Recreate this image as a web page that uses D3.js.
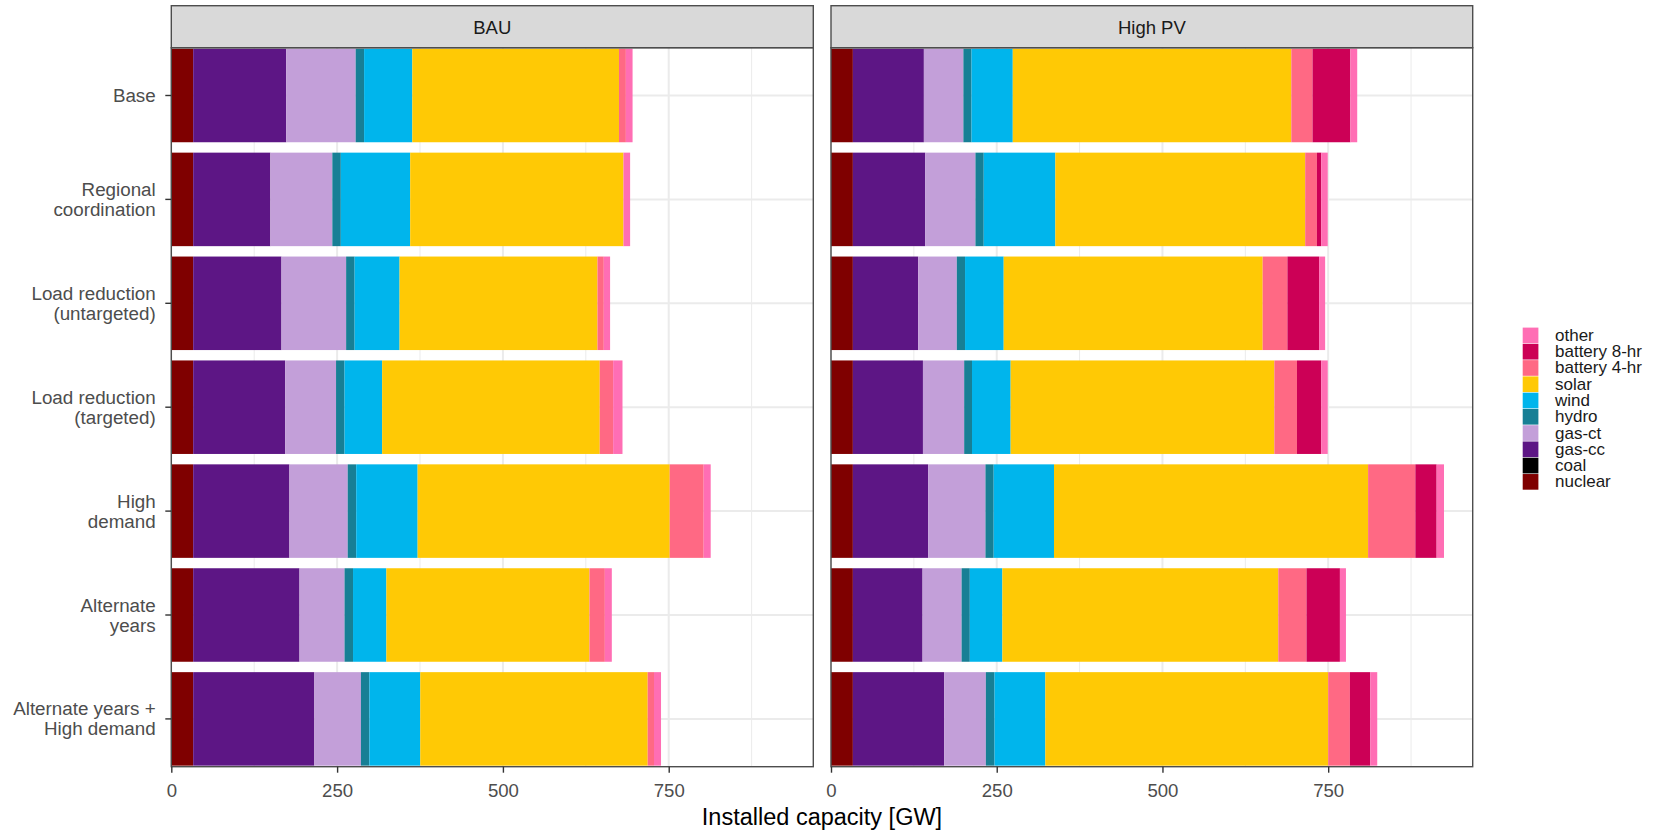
<!DOCTYPE html>
<html><head><meta charset="utf-8">
<script src="https://cdn.jsdelivr.net/npm/d3@7"></script>
<style>
html,body{margin:0;padding:0;background:#fff;}
svg{display:block;font-family:"Liberation Sans", Arial, Helvetica, sans-serif;}
</style></head><body>
<svg id="chart" width="1663" height="831"></svg>
<script>
// ---------------- data ----------------
const scenarios = ["Base","Regional\ncoordination","Load reduction\n(untargeted)","Load reduction\n(targeted)","High\ndemand","Alternate\nyears","Alternate years +\nHigh demand"];
const panels = ["BAU","High PV"];
const technologies = ["nuclear","coal","gas-cc","gas-ct","hydro","wind","solar","battery 4-hr","battery 8-hr","other"];
const techColors = ["#7f0000","#000000","#5d1685","#c39fd9","#177f95","#00b5ec","#ffc905","#ff6984","#cc0056","#ff6eb4"];
const xTicks = [0,250,500,750];
const xMinorTicks = [125,375,625,875];
const xMax = 968;

// BAU (GW)
const bauNuclear = [33,33,33,33,33,33,33];
const bauCoal    = [0,0,0,0,0,0,0];
const bauGasCC   = [140.3,116.4,133.1,138.7,145.1,160.3,182.7];
const bauGasCT   = [104.7,93.4,97.5,76.7,87.9,67.9,70.2];
const bauHydro   = [12.7,12.8,12.8,12.8,12.8,12.8,12.8];
const bauWind    = [72.7,104.6,67.8,56.7,92.6,50.3,76.7];
const bauSolar   = [311.6,321.6,298.4,328.1,380.1,306.2,342.9];
const bauBat4    = [10.4,0,9.5,20.2,51.2,23.2,9.5];
const bauBat8    = [0,0,0,0,0,0,0];
const bauOther   = [10.1,10.0,9.5,14.1,10.6,10.5,10.6];

// High PV (GW)
const hpvNuclear = [33,33,33,33,33,33,33];
const hpvCoal    = [0,0,0,0,0,0,0];
const hpvGasCC   = [107.1,109.0,98.5,105.7,113.6,105.1,137.8];
const hpvGasCT   = [59.6,75.9,58.3,62.2,86.4,58.9,62.8];
const hpvHydro   = [12.3,12.5,12.4,11.8,12.4,12.4,13.1];
const hpvWind    = [62.2,108.0,58.3,58.3,91.0,49.1,76.6];
const hpvSolar   = [420.2,376.9,390.7,397.8,473.8,416.2,426.7];
const hpvBat4    = [32.0,17.7,37.3,34.1,71.3,42.6,32.7];
const hpvBat8    = [57.0,6.5,47.8,36.6,32.1,50.4,30.8];
const hpvOther   = [10.4,9.8,9.1,9.8,11.1,9.1,10.5];

const panelSeries = [
  [bauNuclear,bauCoal,bauGasCC,bauGasCT,bauHydro,bauWind,bauSolar,bauBat4,bauBat8,bauOther],
  [hpvNuclear,hpvCoal,hpvGasCC,hpvGasCT,hpvHydro,hpvWind,hpvSolar,hpvBat4,hpvBat8,hpvOther]
];

// ---------------- layout ----------------
const svg = d3.select("#chart");
const panelX = [[171.3, 813.3],[831, 1472.7]];
const stripTop = 5.7, panelTop = 47.7, panelBottom = 766.7;
const color = d3.scaleOrdinal().domain(technologies).range(techColors);
const y = d3.scaleBand().domain(scenarios).range([panelTop, panelBottom]).paddingInner(0.1).paddingOuter(0.01);

panels.forEach((pname, p) => {
  const x = d3.scaleLinear().domain([0, xMax]).range(panelX[p]);
  const rows = scenarios.map((s, i) => {
    const o = {scenario: s};
    technologies.forEach((t, k) => o[t] = panelSeries[p][k][i]);
    return o;
  });
  const stacked = d3.stack().keys(technologies)(rows);
  const g = svg.append("g");

  // panel background
  g.append("rect").attr("x", x(0)).attr("y", panelTop)
    .attr("width", x(xMax) - x(0)).attr("height", panelBottom - panelTop).attr("fill", "#fff");

  // grid
  g.selectAll(".vminor").data(xMinorTicks).join("line")
    .attr("x1", d => x(d)).attr("x2", d => x(d)).attr("y1", panelTop).attr("y2", panelBottom)
    .attr("stroke", "#ebebeb").attr("stroke-width", 1);
  g.selectAll(".vmajor").data(xTicks).join("line")
    .attr("x1", d => x(d)).attr("x2", d => x(d)).attr("y1", panelTop).attr("y2", panelBottom)
    .attr("stroke", "#ebebeb").attr("stroke-width", 2);
  g.selectAll(".hmajor").data(scenarios).join("line")
    .attr("x1", x(0)).attr("x2", x(xMax))
    .attr("y1", d => y(d) + y.bandwidth()/2).attr("y2", d => y(d) + y.bandwidth()/2)
    .attr("stroke", "#ebebeb").attr("stroke-width", 2);

  // bars
  g.selectAll(".layer").data(stacked).join("g")
    .attr("fill", d => color(d.key))
    .selectAll("rect").data(d => d).join("rect")
    .attr("x", d => x(d[0]))
    .attr("width", d => Math.max(0, x(d[1]) - x(d[0])))
    .attr("y", d => y(d.data.scenario))
    .attr("height", y.bandwidth());

  // border
  g.append("rect").attr("x", x(0)).attr("y", panelTop)
    .attr("width", x(xMax) - x(0)).attr("height", panelBottom - panelTop)
    .attr("fill", "none").attr("stroke", "#4d4d4d").attr("stroke-width", 1.4);

  // strip
  g.append("rect").attr("x", x(0)).attr("y", stripTop)
    .attr("width", x(xMax) - x(0)).attr("height", panelTop - stripTop)
    .attr("fill", "#d9d9d9").attr("stroke", "#4d4d4d").attr("stroke-width", 1.4);
  g.append("text").attr("x", (x(0) + x(xMax)) / 2).attr("y", (stripTop + panelTop) / 2 + 1)
    .attr("text-anchor", "middle").attr("dominant-baseline", "central")
    .attr("font-size", 18.5).attr("fill", "#1a1a1a").text(pname);

  // x axis
  const ax = svg.append("g").attr("transform", `translate(0,${panelBottom})`)
    .call(d3.axisBottom(x).tickValues(xTicks).tickSize(6).tickPadding(11.3).tickFormat(d3.format("d")));
  ax.select(".domain").remove();
  ax.selectAll(".tick line").attr("stroke", "#333").attr("stroke-width", 1.4);
  ax.selectAll(".tick text").attr("font-size", 18.6).attr("fill", "#4d4d4d")
    .attr("font-family", "Liberation Sans, Arial, sans-serif");

  // y axis (first panel only)
  if (p === 0) {
    const ay = svg.append("g").attr("transform", `translate(${x(0)},0)`)
      .call(d3.axisLeft(y).tickSize(6).tickPadding(8));
    ay.select(".domain").remove();
    ay.selectAll(".tick line").attr("stroke", "#333").attr("stroke-width", 1.4);
    ay.selectAll(".tick text").each(function(d) {
      const t = d3.select(this);
      const lines = d.split("\n");
      t.text(null).attr("font-size", 18.8).attr("fill", "#4d4d4d").attr("dy", null)
        .attr("font-family", "Liberation Sans, Arial, sans-serif");
      const lh = 20;
      lines.forEach((ln, k) => {
        t.append("tspan").attr("x", -15.6)
          .attr("y", (k - (lines.length - 1) / 2) * lh)
          .attr("dy", "0.35em").text(ln);
      });
    });
  }
});

// x axis title
svg.append("text").attr("x", (panelX[0][0] + panelX[1][1]) / 2).attr("y", 825)
  .attr("text-anchor", "middle").attr("font-size", 23.5).attr("fill", "#000")
  .text("Installed capacity [GW]");

// legend
const legendTop = 327.3, pitch = 16.27, keyX = 1522.7, keySize = 15.7;
const legendItems = technologies.slice().reverse();
const lg = svg.append("g");
legendItems.forEach((t, i) => {
  lg.append("rect").attr("x", keyX).attr("y", legendTop + i * pitch + 0.3)
    .attr("width", keySize).attr("height", pitch - 0.6).attr("fill", color(t));
  lg.append("text").attr("x", 1555).attr("y", legendTop + i * pitch + pitch / 2)
    .attr("dominant-baseline", "central").attr("font-size", 17).attr("fill", "#1a1a1a").text(t);
});
</script>
</body></html>
